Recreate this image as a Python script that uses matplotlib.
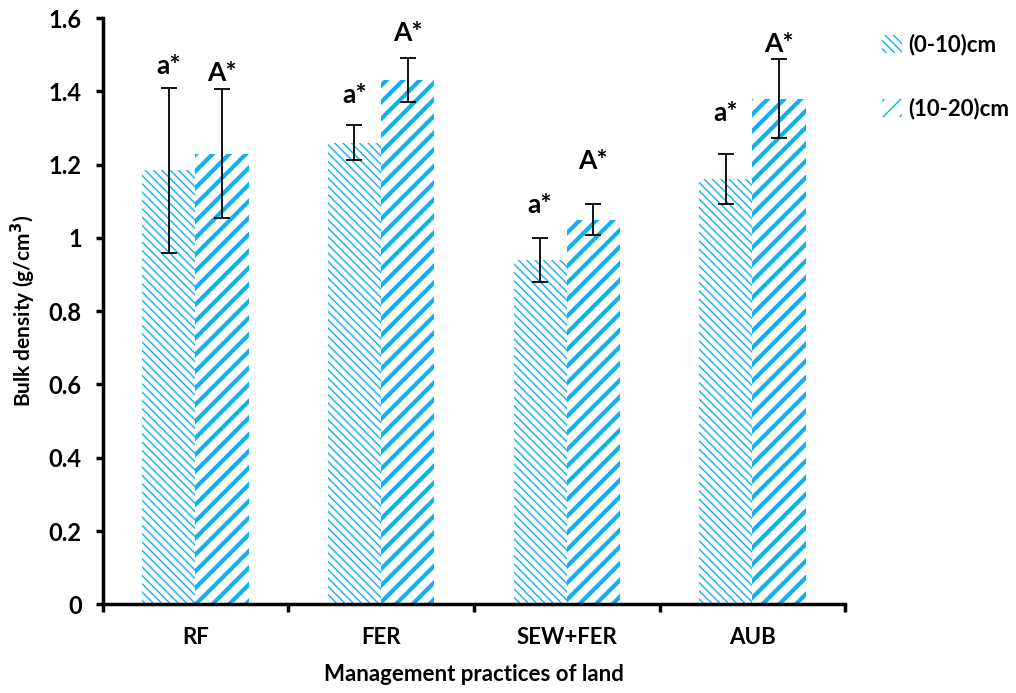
import matplotlib.pyplot as plt
import numpy as np

plt.rcParams['font.family'] = ['Lato', 'Open Sans', 'DejaVu Sans']
plt.rcParams['font.weight'] = 'bold'

practices = ['RF', 'FER', 'SEW+FER', 'AUB']
depths = ['(0-10)cm', '(10-20)cm']

bd_0_10 = [1.185, 1.26, 0.94, 1.16]
err_0_10 = [0.225, 0.047, 0.06, 0.068]
bd_10_20 = [1.23, 1.43, 1.05, 1.38]
err_10_20 = [0.176, 0.06, 0.042, 0.108]

letters_0_10 = ['a*', 'a*', 'a*', 'a*']
letters_10_20 = ['A*', 'A*', 'A*', 'A*']
# where the letters sit (data units)
letter_y_0_10 = [1.47, 1.39, 1.09, 1.34]
letter_y_10_20 = [1.45, 1.56, 1.21, 1.53]

blue = '#12b0ee'

fig = plt.figure(figsize=(10.16, 6.93), dpi=100)
ax = fig.add_axes([0.101, 0.128, 0.731, 0.846])

x = np.arange(len(practices))
w = 0.287

with plt.rc_context({'hatch.linewidth': 1.0, 'hatch.color': blue}):
    b1 = ax.bar(x - w / 2, bd_0_10, w, color='white', edgecolor=blue,
                hatch='\\\\\\\\', linewidth=0, label=depths[0])
with plt.rc_context({'hatch.linewidth': 3.0, 'hatch.color': blue}):
    b2 = ax.bar(x + w / 2, bd_10_20, w, color='white', edgecolor=blue,
                hatch='//', linewidth=0, label=depths[1])
for p in b1:
    if hasattr(p, 'set_hatch_linewidth'):
        p.set_hatch_linewidth(1.0)
for p in b2:
    if hasattr(p, 'set_hatch_linewidth'):
        p.set_hatch_linewidth(3.0)

ax.errorbar(x - w / 2, bd_0_10, yerr=err_0_10, fmt='none', ecolor='black',
            elinewidth=1.3, capsize=6, capthick=1.3)
ax.errorbar(x + w / 2, bd_10_20, yerr=err_10_20, fmt='none', ecolor='black',
            elinewidth=1.3, capsize=6, capthick=1.3)

for i in range(len(practices)):
    ax.text(x[i] - w / 2, letter_y_0_10[i], letters_0_10[i], ha='center',
            va='center', fontsize=19, fontweight='bold')
    ax.text(x[i] + w / 2, letter_y_10_20[i], letters_10_20[i], ha='center',
            va='center', fontsize=19, fontweight='bold')

ax.set_xlim(-0.5, 3.5)
ax.set_ylim(0, 1.6)
ax.set_yticks(np.arange(0, 1.61, 0.2))
ax.set_yticklabels(['0', '0.2', '0.4', '0.6', '0.8', '1', '1.2', '1.4', '1.6'])
ax.set_xticks(np.arange(-0.5, 3.6, 1.0))
ax.set_xticklabels([])
ax.set_xticks(x, minor=True)
ax.set_xticklabels(practices, minor=True)
ax.tick_params(axis='x', which='minor', length=0, pad=16, labelsize=16)
ax.tick_params(axis='x', which='major', length=6, width=2.5)
ax.tick_params(axis='y', length=5, width=2.5, labelsize=17, pad=10)

for s in ['top', 'right']:
    ax.spines[s].set_visible(False)
for s in ['left', 'bottom']:
    ax.spines[s].set_linewidth(2.5)

ax.set_ylabel('Bulk density (g/cm$\\mathbf{^3}$)', fontsize=15, fontweight='bold', labelpad=8)
ax.set_xlabel('Management practices of land', fontsize=16, fontweight='bold', labelpad=12)

fig.legend(handles=[b1, b2], loc='upper left', bbox_to_anchor=(0.848, 0.98),
           frameon=False, fontsize=16, handlelength=0.9, handleheight=0.9,
           handletextpad=0.3, labelspacing=1.9)

fig.savefig('out.png', dpi=100)
